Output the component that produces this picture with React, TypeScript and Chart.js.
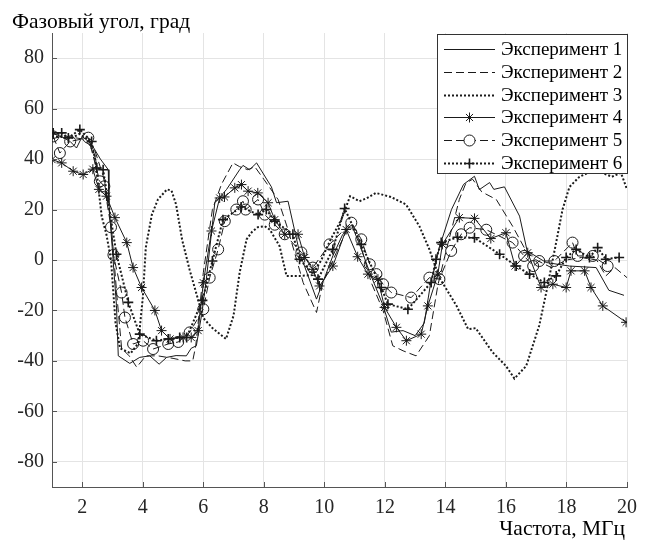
import React, { useEffect, useRef } from "react";
import { Chart, registerables } from "chart.js";

Chart.register(...registerables);

// ---------- data ----------
const seriesNames = [
  "Эксперимент 1",
  "Эксперимент 2",
  "Эксперимент 3",
  "Эксперимент 4",
  "Эксперимент 5",
  "Эксперимент 6",
];

const yTitle = "Фазовый угол, град";
const xTitle = "Частота, МГц";

const xTicks = [2, 4, 6, 8, 10, 12, 14, 16, 18, 20];
const yTicks = [-80, -60, -40, -20, 0, 20, 40, 60, 80];

const exp1X = [1.0, 1.3, 1.6, 1.81, 2.0, 2.3, 2.6, 2.86, 2.88, 3.13, 3.19, 3.57, 3.9, 4.23, 4.54, 4.79, 5.1, 5.44, 5.6, 5.77, 5.94, 6.1, 6.38, 6.77, 7.2, 7.31, 7.53, 7.76, 8.25, 8.42, 8.8, 9.18, 9.74, 10.28, 10.6, 10.9, 11.2, 11.5, 11.94, 12.21, 12.6, 13.0, 13.3, 13.5, 13.8, 14.2, 14.6, 14.96, 15.12, 15.46, 15.6, 15.95, 16.45, 16.7, 17.33, 18.1, 18.98, 19.4, 19.9];
const exp1Y = [48, 49, 47, 44.4, 49, 46, 40, 35.8, 22.7, -18, -38, -41, -38.6, -38, -41.3, -38.6, -37.9, -38, -35, -34, -22, -7.6, 22.7, 28, 35.8, 37.5, 35.8, 38.5, 29, 22.7, 23.3, 3, -15.5, 1.6, 10, 14, 5, -5, -18, -28.6, -28, -30, -25, -10, 5, 20, 30, 33.2, 27.9, 30.7, 28, 29, 17.4, 3.6, -1, -2.4, -3, -12, -14];

const exp2X = [1.0, 1.5, 2.0, 2.4, 2.7, 2.95, 3.15, 3.3, 3.55, 3.8, 4.1, 4.5, 5.0, 5.4, 5.65, 5.75, 6.0, 6.3, 6.6, 6.98, 7.2, 7.47, 7.7, 8.0, 8.47, 8.8, 9.3, 9.74, 9.95, 10.4, 10.75, 11.05, 11.55, 11.94, 12.26, 12.6, 13.03, 13.47, 13.75, 14.05, 14.46, 14.68, 14.9, 15.2, 15.68, 16.22, 16.6, 17.0, 17.5, 18.0, 18.5, 19.0, 19.3, 19.6, 20.0];
const exp2Y = [50, 49, 48, 44, 33, 15, -15, -35, -38, -42.5, -38, -38, -39, -40, -40, -34, -5, 20, 30, 38.5, 37, 35.8, 37, 32, 24, 12, -9, -20.8, -9, 3, 12, 12, -9, -20, -34, -36, -38, -30, -10, 5, 24, 30.6, 32, 27, 24, 13.4, 5, 0, -3, 0, 1, 0, -6.3, -3, -7];

const exp3X = [1.0, 1.3, 1.6, 1.9, 2.2, 2.42, 2.64, 2.8, 2.95, 3.1, 3.25, 3.6, 3.85, 4.0, 4.1, 4.3, 4.5, 4.8, 4.95, 5.1, 5.3, 5.55, 6.0, 6.3, 6.75, 7.0, 7.2, 7.43, 7.6, 7.8, 8.03, 8.2, 8.52, 8.75, 9.2, 9.6, 9.9, 10.2, 10.56, 10.85, 11.16, 11.4, 11.7, 12.2, 12.7, 13.14, 13.47, 13.8, 14.36, 14.75, 15.0, 15.56, 16.0, 16.28, 16.67, 17.1, 17.33, 17.66, 17.87, 18.1, 18.43, 18.7, 19.2, 19.5, 19.8, 20.0];
const exp3Y = [49, 49, 48, 50, 47.7, 41, 17.4, 10, 0, -25, -35, -37, -33, -15, 5, 18, 24, 28, 27.5, 22, 8, -4, -23, -27, -31.3, -22, -5, 8.2, 11, 13, 13.4, 12, 5.5, -6.3, -6.3, -6, 0, 8, 16, 25.3, 23.3, 24.5, 26.6, 25, 22, 13.4, 4.2, -7, -18, -27.4, -27, -36.6, -42, -47, -42, -26, -13, 7, 20, 29, 33, 34.5, 34.5, 33, 34.6, 28];

const exp4X = [1.0, 1.32, 1.7, 2.03, 2.35, 2.55, 2.8, 3.08, 3.47, 3.68, 3.96, 4.4, 4.62, 4.9, 5.33, 5.6, 5.83, 6.0, 6.27, 6.54, 6.7, 7.04, 7.26, 7.48, 7.8, 8.14, 8.36, 8.69, 9.13, 9.35, 9.62, 9.84, 10.28, 10.72, 11.1, 11.44, 11.77, 11.99, 12.38, 12.71, 13.2, 13.42, 13.75, 13.9, 14.46, 14.96, 15.5, 16.0, 16.3, 16.72, 17.16, 17.55, 17.99, 18.15, 18.6, 18.81, 19.2, 19.97];
const exp4Y = [39.8, 38.5, 35.2, 33.9, 36, 28, 25.3, 16.8, 6.9, -3, -10.9, -20, -28, -31.3, -30.7, -30.7, -28, -9, 11.5, 24.6, 25, 28.6, 29.9, 27.3, 26.6, 22.7, 16, 10.2, 10.2, 1, -3.7, -10.3, -2.4, 12.1, 1.3, -5.6, -7.6, -18.8, -26.7, -32, -29.4, -18.2, -5.6, 6.2, 16.8, 16.5, 8.5, 10.8, -2.4, 2.9, -10.9, -9.6, -10.9, -4.3, -4.3, -10.9, -18.2, -24.7];

const exp5X = [1.04, 1.26, 1.6, 2.2, 2.58, 2.73, 2.95, 3.03, 3.3, 3.41, 3.68, 4.01, 4.34, 4.84, 5.17, 5.55, 6.0, 6.21, 6.49, 6.71, 7.09, 7.31, 7.4, 7.81, 8.03, 8.36, 8.69, 9.24, 9.62, 10.17, 10.89, 11.22, 11.5, 11.72, 11.94, 12.21, 12.87, 13.47, 13.8, 14.19, 14.52, 14.8, 15.35, 16.22, 16.6, 16.9, 17.1, 17.6, 18.2, 18.37, 18.87, 19.36];
const exp5Y = [49, 42.4, 47, 48.5, 31.2, 29.2, 13, 2, -12.9, -22.8, -33.3, -32, -35.3, -33.3, -32.5, -28.7, -19.5, -7, 4.2, 15.4, 20, 23.3, 20, 24, 18, 14, 10.2, 3, -3, 6.2, 14.8, 8.2, -1.7, -5.6, -9.6, -12.9, -14.9, -7, -7.6, 3.6, 10.2, 12.8, 12, 6.9, 1.6, -2.4, -0.4, -0.4, 6.9, 1.6, 1.6, -2.4];

const exp6X = [1.04, 1.32, 1.54, 1.92, 2.31, 2.48, 2.69, 3.13, 3.52, 3.9, 4.45, 4.84, 5.22, 5.45, 5.97, 6.3, 6.65, 7.25, 7.81, 8.08, 8.36, 8.96, 9.18, 9.79, 10.28, 10.67, 11.22, 11.88, 12.1, 12.76, 13.53, 13.69, 13.86, 14.4, 14.96, 15.79, 16.34, 16.78, 17.27, 17.66, 17.99, 18.32, 18.76, 19.03, 19.3, 19.74];
const exp6Y = [50.4, 50.4, 48.4, 51.7, 47, 36.5, 35.8, 2.3, -16.8, -29.4, -32, -31.3, -30.7, -30.7, -16, -0.4, 16, 21, 18, 20, 15.4, 10.2, 0.3, -7.6, 4.2, 20.4, 6.2, -10.9, -17.5, -19.5, -8.9, 0.3, 6.9, 9, 8.8, 2.3, -2.4, -5.6, -8.9, -6.3, 1, 4.2, 1, 4.9, 0.3, 1];

const seriesX = [exp1X, exp2X, exp3X, exp4X, exp5X, exp6X];
const seriesY = [exp1Y, exp2Y, exp3Y, exp4Y, exp5Y, exp6Y];

// ---------- styles ----------
const FONT = '"Liberation Serif", "Times New Roman", serif';
const LINE = "#1a1a1a";
const DASH = [8, 4];
const DOT = [2, 2];
const styles = [
  { dash: [] as number[], width: 1, marker: "" },
  { dash: DASH, width: 1, marker: "" },
  { dash: DOT, width: 2, marker: "" },
  { dash: [] as number[], width: 1, marker: "star" },
  { dash: DASH, width: 1, marker: "circle" },
  { dash: DOT, width: 2, marker: "cross" },
];

function drawMarker(ctx: CanvasRenderingContext2D, style: string, x: number, y: number, r: number) {
  ctx.beginPath();
  if (style === "star") {
    ctx.moveTo(x, y - r); ctx.lineTo(x, y + r);
    ctx.moveTo(x - r, y); ctx.lineTo(x + r, y);
    const d = r * Math.SQRT1_2;
    ctx.moveTo(x - d, y - d); ctx.lineTo(x + d, y + d);
    ctx.moveTo(x - d, y + d); ctx.lineTo(x + d, y - d);
  } else if (style === "circle") {
    ctx.arc(x, y, r, 0, Math.PI * 2);
  } else if (style === "cross") {
    ctx.moveTo(x, y - r); ctx.lineTo(x, y + r);
    ctx.moveTo(x - r, y); ctx.lineTo(x + r, y);
  }
  ctx.stroke();
}

const decor = {
  id: "decor",
  afterDraw(chart: any) {
    const ctx: CanvasRenderingContext2D = chart.ctx;
    const { left, bottom } = chart.chartArea;
    const xs = chart.scales.x;
    const ys = chart.scales.y;
    ctx.save();
    // inward tick marks
    ctx.strokeStyle = "#555";
    ctx.lineWidth = 1;
    ctx.setLineDash([]);
    xTicks.forEach((v) => {
      const px = Math.round(xs.getPixelForValue(v)) + 0.5;
      ctx.beginPath(); ctx.moveTo(px, bottom); ctx.lineTo(px, bottom - 5); ctx.stroke();
    });
    yTicks.forEach((v) => {
      const py = Math.round(ys.getPixelForValue(v)) + 0.5;
      ctx.beginPath(); ctx.moveTo(left, py); ctx.lineTo(left + 5, py); ctx.stroke();
    });
    // axis titles
    ctx.fillStyle = "#000";
    ctx.font = `21.5px ${FONT}`;
    ctx.textBaseline = "alphabetic";
    ctx.textAlign = "left";
    ctx.fillText(yTitle, 12, 27.5);
    ctx.textAlign = "right";
    ctx.fillText(xTitle, 625, 535);
    // legend box
    const lx0 = 437, ly0 = 34, lx1 = 628, ly1 = 174;
    ctx.fillStyle = "#fff";
    ctx.fillRect(lx0, ly0, lx1 - lx0, ly1 - ly0);
    ctx.strokeStyle = "#333";
    ctx.lineWidth = 1;
    ctx.strokeRect(lx0 + 0.5, ly0 + 0.5, lx1 - lx0 - 1, ly1 - ly0 - 1);
    seriesNames.forEach((name, i) => {
      const st = styles[i];
      const y = Math.round(49 + i * 22.8) + 0.5;
      ctx.strokeStyle = LINE;
      ctx.lineWidth = st.width;
      ctx.setLineDash(st.dash);
      ctx.beginPath(); ctx.moveTo(444, y); ctx.lineTo(495, y); ctx.stroke();
      ctx.setLineDash([]);
      if (st.marker) {
        ctx.lineWidth = st.marker === "cross" ? 1.6 : 1;
        if (st.marker === "circle") {
          ctx.fillStyle = "#fff";
          ctx.beginPath(); ctx.arc(469.5, y, 5.5, 0, Math.PI * 2); ctx.fill();
        }
        drawMarker(ctx, st.marker, 469.5, y, st.marker === "circle" ? 5.5 : 5);
      }
      ctx.fillStyle = "#000";
      ctx.font = `19px ${FONT}`;
      ctx.textAlign = "left";
      ctx.textBaseline = "middle";
      ctx.fillText(name, 501, y + 1);
    });
    ctx.restore();
  },
};

export default function App() {
  const ref = useRef<HTMLCanvasElement | null>(null);
  useEffect(() => {
    document.body.style.margin = "0";
    const canvas = ref.current;
    if (!canvas) return;
    const datasets = seriesX.map((xs, i) => {
      const st = styles[i];
      return {
        label: seriesNames[i],
        data: xs.map((x, j) => ({ x, y: seriesY[i][j] })),
        borderColor: LINE,
        borderWidth: st.width,
        borderDash: st.dash,
        backgroundColor: "transparent",
        fill: false,
        tension: 0,
        pointStyle: st.marker || "circle",
        pointRadius: st.marker ? (st.marker === "circle" ? 5.5 : 5) : 0,
        pointBorderColor: LINE,
        pointBackgroundColor: "transparent",
        pointBorderWidth: st.marker === "cross" ? 1.6 : 1,
        pointHoverRadius: 0,
      };
    });
    const tickFont = { family: FONT, size: 20 };
    const chart = new Chart(canvas, {
      type: "line",
      data: { datasets },
      options: {
        animation: false,
        responsive: false,
        devicePixelRatio: 1,
        layout: { padding: { top: 33, right: 25, left: 0, bottom: 0 } },
        plugins: {
          legend: { display: false },
          title: { display: false },
          tooltip: { enabled: false },
        },
        scales: {
          x: {
            type: "linear",
            min: 1,
            max: 20,
            afterBuildTicks: (s: any) => { s.ticks = xTicks.map((v) => ({ value: v })); },
            afterFit: (s: any) => { s.height = 57; },
            ticks: { padding: 9, font: tickFont, color: "#262626", maxRotation: 0, autoSkip: false },
            grid: { color: "#e4e4e4", drawTicks: false, tickLength: 0 },
            border: { color: "#555", width: 1 },
          },
          y: {
            type: "linear",
            min: -90,
            max: 90,
            afterBuildTicks: (s: any) => { s.ticks = yTicks.map((v) => ({ value: v })); },
            afterFit: (s: any) => { s.width = 52; },
            ticks: { padding: 8, font: tickFont, color: "#262626", autoSkip: false },
            grid: { color: "#e4e4e4", drawTicks: false, tickLength: 0 },
            border: { color: "#555", width: 1 },
          },
        },
      } as any,
      plugins: [decor],
    });
    return () => chart.destroy();
  }, []);
  return (
    <div style={{ width: 652, height: 544, background: "#fff" }}>
      <canvas ref={ref} width={652} height={544} style={{ display: "block" }} />
    </div>
  );
}
